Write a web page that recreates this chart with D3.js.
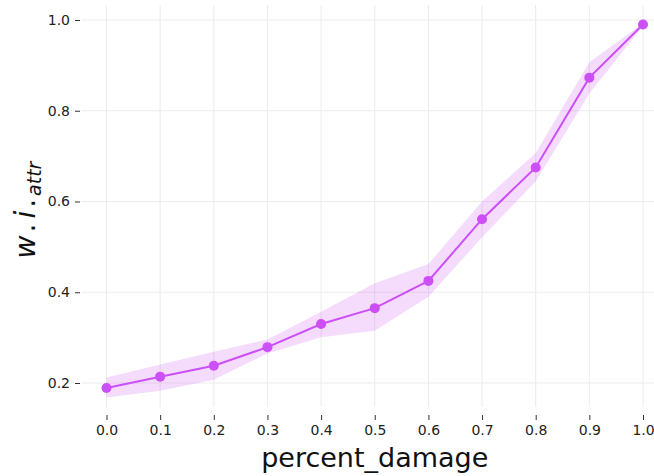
<!DOCTYPE html>
<html>
<head>
<meta charset="utf-8">
<script src="https://cdn.jsdelivr.net/npm/d3@7"></script>
<style>
  body { margin: 0; background: #fff; }
  svg { font-family: "DejaVu Sans", sans-serif; }
</style>
</head>
<body>
<div id="chart"></div>
<script>
"use strict";

// data
var percentDamage = [0.0, 0.1, 0.2, 0.3, 0.4, 0.5, 0.6, 0.7, 0.8, 0.9, 1.0];
var meanValues    = [0.189, 0.214, 0.238, 0.279, 0.330, 0.365, 0.425, 0.561, 0.675, 0.873, 0.990];
var upperValues   = [0.212, 0.241, 0.269, 0.296, 0.357, 0.420, 0.462, 0.600, 0.707, 0.907, 0.993];
var lowerValues   = [0.168, 0.183, 0.207, 0.265, 0.301, 0.315, 0.390, 0.521, 0.644, 0.838, 0.987];
var xTicks = [0.0, 0.1, 0.2, 0.3, 0.4, 0.5, 0.6, 0.7, 0.8, 0.9, 1.0];
var yTicks = [0.2, 0.4, 0.6, 0.8, 1.0];

var width = 654, height = 476;
var color = "#cc4ff7";

var svg = d3.select("#chart").append("svg")
    .attr("width", width)
    .attr("height", height);

var x = d3.scaleLinear().domain([0, 1]).range([106.5, 643]);
var y = d3.scaleLinear().domain([0.2, 1.0]).range([383, 20]);

var plotLeft = 81, plotRight = 654, plotTop = 5, plotBottom = 407;

// grid
svg.append("g").selectAll("line.vg")
    .data(xTicks).enter().append("line")
    .attr("x1", function(d) { return x(d); })
    .attr("x2", function(d) { return x(d); })
    .attr("y1", plotTop).attr("y2", plotBottom)
    .style("stroke", "#ebebeb").style("stroke-width", 1);

svg.append("g").selectAll("line.hg")
    .data(yTicks).enter().append("line")
    .attr("x1", plotLeft).attr("x2", plotRight)
    .attr("y1", function(d) { return y(d); })
    .attr("y2", function(d) { return y(d); })
    .style("stroke", "#ebebeb").style("stroke-width", 1);

// axes (detached from plot, no domain line)
var xAxis = svg.append("g")
    .attr("transform", "translate(0," + 415 + ")")
    .call(d3.axisBottom(x).tickValues(xTicks).tickFormat(d3.format(".1f")).tickSize(5).tickPadding(5));
var yAxis = svg.append("g")
    .attr("transform", "translate(" + 80 + ",0)")
    .call(d3.axisLeft(y).tickValues(yTicks).tickFormat(d3.format(".1f")).tickSize(5).tickPadding(5));

[xAxis, yAxis].forEach(function(ax) {
    ax.select(".domain").remove();
    ax.selectAll("text").style("font-size", "14px").style("fill", "#222")
      .style("font-family", "'DejaVu Sans', sans-serif");
    ax.selectAll("line").style("stroke", "#333");
});

// band
var band = d3.area()
    .x(function(d, i) { return x(percentDamage[i]); })
    .y0(function(d, i) { return y(lowerValues[i]); })
    .y1(function(d, i) { return y(upperValues[i]); });

svg.append("path")
    .datum(meanValues)
    .attr("d", band)
    .style("fill", color)
    .style("fill-opacity", 0.2);

// line
var line = d3.line()
    .x(function(d, i) { return x(percentDamage[i]); })
    .y(function(d) { return y(d); });

svg.append("path")
    .datum(meanValues)
    .attr("d", line)
    .style("fill", "none")
    .style("stroke", color)
    .style("stroke-width", 2);

svg.append("g").selectAll("circle")
    .data(meanValues).enter().append("circle")
    .attr("cx", function(d, i) { return x(percentDamage[i]); })
    .attr("cy", function(d) { return y(d); })
    .attr("r", 5)
    .style("fill", color);

// axis labels
svg.append("text")
    .attr("x", x(0.5))
    .attr("y", 467)
    .attr("text-anchor", "middle")
    .style("font-size", "27px")
    .style("fill", "#111")
    .text("percent_damage");

var yl = svg.append("text")
    .attr("transform", "translate(35," + 210 + ") rotate(-90)")
    .attr("text-anchor", "middle")
    .style("font-size", "28px")
    .style("font-style", "italic")
    .style("fill", "#111");
yl.append("tspan").text("w");
yl.append("tspan").attr("dx", 3).style("font-style", "normal").text(".");
yl.append("tspan").attr("dx", 5).text("i");
yl.append("tspan").attr("dx", 3).style("font-style", "normal").text(".");
yl.append("tspan").attr("dx", 3).attr("dy", 6).style("font-size", "19px").text("attr");
</script>
</body>
</html>
